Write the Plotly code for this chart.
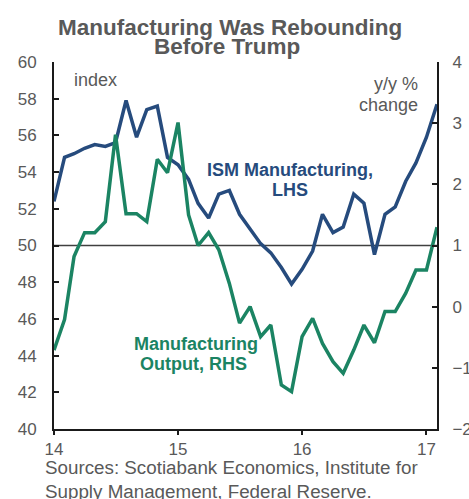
import pandas as pd
import plotly.graph_objects as go

months = pd.date_range("2014-01-01", "2017-02-01", freq="MS")

ism_manufacturing = [
    52.4, 54.8, 55.0, 55.3, 55.5, 55.4, 55.6, 57.9, 55.9, 57.4, 57.6, 54.8,
    54.4, 53.6, 52.3, 51.5, 52.8, 53.0, 51.7, 50.9, 50.1, 49.6, 48.8, 47.9,
    48.7, 49.7, 51.7, 50.7, 51.0, 52.8, 52.3, 49.5, 51.7, 52.1, 53.5, 54.5,
    55.9, 57.7,
]
manufacturing_output = [
    -0.71, -0.21, 0.82, 1.21, 1.21, 1.39, 2.81, 1.52, 1.52, 1.39, 2.41, 2.19,
    3.01, 1.50, 1.00, 1.21, 0.93, 0.38, -0.27, 0.00, -0.49, -0.30, -1.28, -1.39,
    -0.49, -0.19, -0.60, -0.90, -1.09, -0.71, -0.30, -0.59, -0.08, -0.08, 0.22, 0.60,
    0.60, 1.30,
]

x_tick_vals = ["2014-01-01", "2015-01-01", "2016-01-01", "2017-01-01"]
x_tick_text = ["14", "15", "16", "17"]
left_ticks = [40, 42, 44, 46, 48, 50, 52, 54, 56, 58, 60]
right_ticks = [-2, -1, 0, 1, 2, 3, 4]

NAVY = "#264b7d"
GREEN = "#1b8463"
GRAY = "#595959"
FONT = "Liberation Sans, Arial, sans-serif"

W, H = 469, 499
ML, MR, MT, MB = 54, 32, 62, 70
PW, PH = W - ML - MR, H - MT - MB


def px(xp):
    return (xp - ML) / PW


def py(yp):
    return (H - MB - yp) / PH


fig = go.Figure()
fig.add_trace(go.Scatter(x=months, y=manufacturing_output, yaxis="y2", mode="lines",
                         line=dict(color=GREEN, width=3.5), showlegend=False))
fig.add_trace(go.Scatter(x=months, y=ism_manufacturing, mode="lines",
                         line=dict(color=NAVY, width=3.5), showlegend=False))

fig.add_shape(type="line", xref="paper", x0=0, x1=1, yref="y", y0=50, y1=50,
              line=dict(color="#404040", width=1.5), layer="below")

axis_common = dict(showgrid=False, zeroline=False, showline=True, linecolor="#1a1a1a",
                   linewidth=2, tickwidth=1.5, tickcolor="#1a1a1a", automargin=False,
                   tickfont=dict(size=17, color=GRAY))

fig.update_layout(
    width=W, height=H,
    margin=dict(l=ML, r=MR, t=MT, b=MB, autoexpand=False),
    paper_bgcolor="white", plot_bgcolor="white",
    font=dict(family=FONT, color=GRAY, size=16),
    xaxis=dict(type="date", range=["2014-01-01", "2017-02-01"],
               tickvals=x_tick_vals, ticktext=x_tick_text,
               ticks="outside", ticklen=4, **axis_common),
    yaxis=dict(range=[40, 60], tickvals=left_ticks, ticks="inside", ticklen=5,
               ticklabelstandoff=12, **axis_common),
    yaxis2=dict(range=[-2, 4], tickvals=right_ticks, overlaying="y", side="right",
                ticks="inside", ticklen=5, ticklabelstandoff=10, **axis_common),
)


def note(text, xp, yp, size, color, xanchor="center", bold=False):
    fig.add_annotation(text=f"<b>{text}</b>" if bold else text, xref="paper", yref="paper",
                       x=px(xp), y=py(yp), xanchor=xanchor, yanchor="middle",
                       showarrow=False, font=dict(size=size, color=color, family=FONT))


# title
note("Manufacturing Was Rebounding", 230, 27, 22.5, GRAY, bold=True)
note("Before Trump", 227, 47, 22.5, GRAY, bold=True)

# axis unit labels
note("index", 72, 80, 18, GRAY, xanchor="left")
note("y/y %", 420, 84, 18, GRAY, xanchor="right")
note("change", 420, 105, 18, GRAY, xanchor="right")

# series labels
note("ISM Manufacturing,", 290, 170, 18, NAVY, bold=True)
note("LHS", 290, 190, 18, NAVY, bold=True)
note("Manufacturing", 196, 344, 18, GREEN, bold=True)
note("Output, RHS", 193, 364, 18, GREEN, bold=True)

# sources
note("Sources: Scotiabank Economics, Institute for", 43, 468, 18.8, GRAY, xanchor="left")
note("Supply Management, Federal Reserve.", 43, 491, 18.8, GRAY, xanchor="left")

fig.write_html("out.html", config={"displayModeBar": False},
               post_script="document.body.style.margin='0';document.body.style.overflow='hidden';")
